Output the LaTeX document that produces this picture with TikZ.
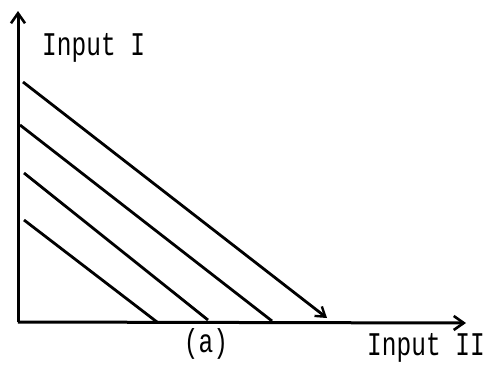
\documentclass[tikz,border=0pt]{standalone}
\usepackage{fontspec}
\setmonofont{Liberation Mono}
\usetikzlibrary{arrows.meta}
\begin{document}
\begin{tikzpicture}[x=1pt,y=-1pt,
  axis/.style={line width=3pt,-{Straight Barb[length=10pt,width=14pt,line width=2.6pt]}},
  iso/.style={line width=2.8pt},
  lbl/.style={inner sep=0pt,font=\ttfamily\fontsize{24.5}{24.5}\selectfont,yscale=1.35}]
\useasboundingbox (0,0) rectangle (492,367);
\coordinate (O) at (18,322);
\coordinate (Ytop) at (18,11);
\coordinate (Xend) at (466,323);
\draw[axis] (O) -- (Ytop);
\draw[axis] (O) -- (Xend);
\coordinate (a1) at (23,82);  \coordinate (b1) at (327,318);
\coordinate (a2) at (20,125); \coordinate (b2) at (272,321);
\coordinate (a3) at (24,173); \coordinate (b3) at (208,320);
\coordinate (a4) at (24,220); \coordinate (b4) at (157,322);
\draw[iso,-{Straight Barb[length=9pt,width=12pt,line width=2.4pt]}] (a1) -- (b1);
\draw[iso] (a2) -- (b2);
\draw[iso] (a3) -- (b3);
\draw[iso] (a4) -- (b4);
\node[lbl,anchor=base west] (t1) at (42,55) {Input I};
\node[lbl,anchor=base] (t2) at (206,352) {(a)};
\node[lbl,anchor=base west] (t3) at (367,355) {Input II};
\end{tikzpicture}
\end{document}
